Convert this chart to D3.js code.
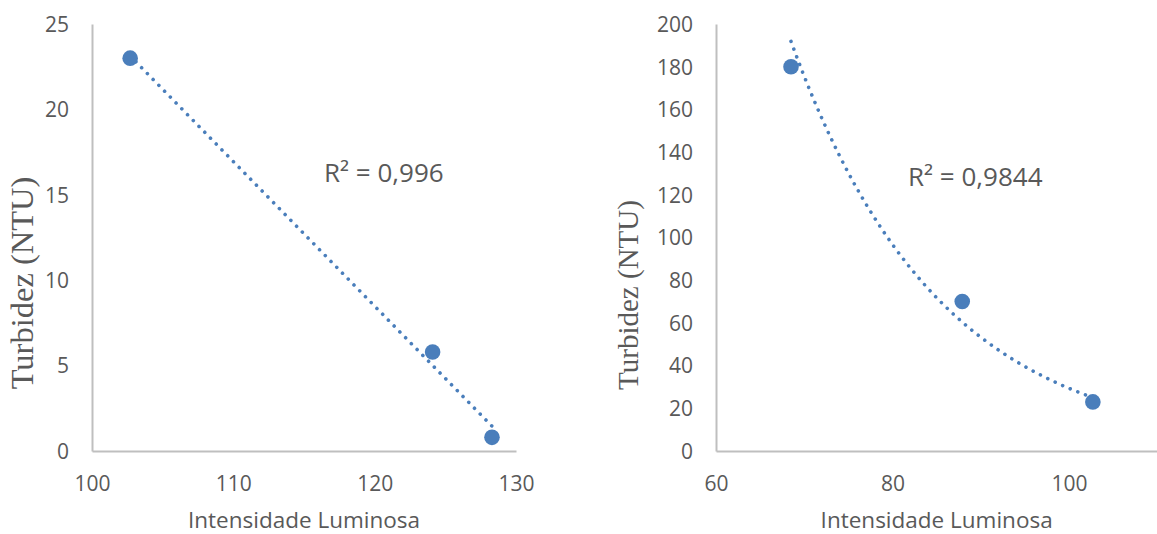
<!DOCTYPE html>
<html>
<head>
<meta charset="utf-8">
<script src="https://cdn.jsdelivr.net/npm/d3@7"></script>
<style>
  body { margin: 0; background: #fff; }
  svg { display: block; }
  .tick text { font-family: "Open Sans", sans-serif; font-size: 21px; fill: #595959; }
  .domain { stroke: #bfbfbf; stroke-width: 2; }
  .xtitle { font-family: "Open Sans", sans-serif; font-size: 22.5px; fill: #595959; }
  .ytitle { font-family: "Liberation Serif", serif; fill: #595959; }
  .r2 { font-family: "Open Sans", sans-serif; fill: #595959; }
</style>
</head>
<body>
<div id="graphic"></div>
<script>
// left panel: linear fit
const leftX = [102.7, 124.1, 128.3];
const leftY = [23, 5.8, 0.8];
const leftXTicks = [100, 110, 120, 130];
const leftYTicks = [0, 5, 10, 15, 20, 25];
const leftR2 = "R² = 0,996";

// right panel: exponential fit
const rightX = [68.5, 87.9, 102.7];
const rightY = [180, 70, 23];
const rightXTicks = [60, 80, 100];
const rightYTicks = [0, 20, 40, 60, 80, 100, 120, 140, 160, 180, 200];
const rightR2 = "R² = 0,9844";

const XTITLE = "Intensidade Luminosa";
const YTITLE = "Turbidez (NTU)";

const W = 1157, H = 534;
const BLUE = "#4a7ebb";
const DOT_R = 7.8;

var svg = d3.select("#graphic").append("svg")
    .attr("width", W)
    .attr("height", H);

function linFit(xs, ys){
    var mx = d3.mean(xs), my = d3.mean(ys)
    var sxy = d3.sum(xs, (x,i) => (x - mx) * (ys[i] - my))
    var sxx = d3.sum(xs, x => (x - mx) * (x - mx))
    var b = sxy / sxx
    return {a: my - b * mx, b: b}
}

function drawPanel(opt){
    var x = d3.scaleLinear().domain(opt.xDomain).range(opt.xRange)
    var y = d3.scaleLinear().domain(opt.yDomain).range([451, 24])
    var g = svg.append("g")

    g.append("g")
        .attr("transform", `translate(${opt.xRange[0]},0)`)
        .call(d3.axisLeft(y).tickValues(opt.yTicks).tickSize(0).tickPadding(23))
        .call(g => g.selectAll(".tick text").attr("dy", "0.35em"))

    g.append("g")
        .attr("transform", `translate(0,451)`)
        .call(d3.axisBottom(x).tickValues(opt.xTicks).tickSize(0).tickPadding(25))

    // trendline sampled along the fitted curve
    var xs = d3.range(0, 101).map(i => d3.min(opt.xs) + (d3.max(opt.xs) - d3.min(opt.xs)) * i / 100)
    var line = d3.line().x(d => x(d)).y(d => y(opt.fit(d)))
    g.append("path")
        .attr("d", line(xs))
        .attr("fill", "none")
        .attr("stroke", BLUE)
        .attr("stroke-width", 3.6)
        .attr("stroke-linecap", "round")
        .attr("stroke-dasharray", "0.01 8.2")

    g.selectAll(".dot")
        .data(opt.xs)
        .enter()
        .append("circle")
        .attr("class", "dot")
        .attr("cx", d => x(d))
        .attr("cy", (d,i) => y(opt.ys[i]))
        .attr("r", DOT_R)
        .style("fill", BLUE)

    g.append("text")
        .attr("class", "xtitle")
        .attr("x", (opt.xRange[0] + opt.xRange[1]) / 2)
        .attr("y", 528)
        .attr("text-anchor", "middle")
        .text(XTITLE)

    g.append("text")
        .attr("class", "ytitle")
        .attr("transform", `translate(${opt.yTitle[0]},${opt.yTitle[1]}) rotate(-90)`)
        .attr("text-anchor", "middle")
        .style("font-size", opt.yTitle[2] + "px")
        .text(YTITLE)

    g.append("text")
        .attr("class", "r2")
        .attr("x", opt.r2Pos[0])
        .attr("y", opt.r2Pos[1])
        .style("font-size", opt.r2Pos[2] + "px")
        .text(opt.r2)
}

var lf = linFit(leftX, leftY)
drawPanel({
    xs: leftX, ys: leftY,
    xDomain: [100, 130], xRange: [92, 516],
    yDomain: [0, 25],
    xTicks: leftXTicks, yTicks: leftYTicks,
    fit: v => lf.a + lf.b * v,
    yTitle: [33, 283, 32.5],
    r2: leftR2, r2Pos: [324, 182, 26]
})

var ef = linFit(rightX, rightY.map(v => Math.log(v)))
drawPanel({
    xs: rightX, ys: rightY,
    xDomain: [60, 110], xRange: [716, 1157.3],
    yDomain: [0, 200],
    xTicks: rightXTicks, yTicks: rightYTicks,
    fit: v => Math.exp(ef.a + ef.b * v),
    yTitle: [638, 295, 29],
    r2: rightR2, r2Pos: [908, 186, 26]
})
</script>
</body>
</html>
